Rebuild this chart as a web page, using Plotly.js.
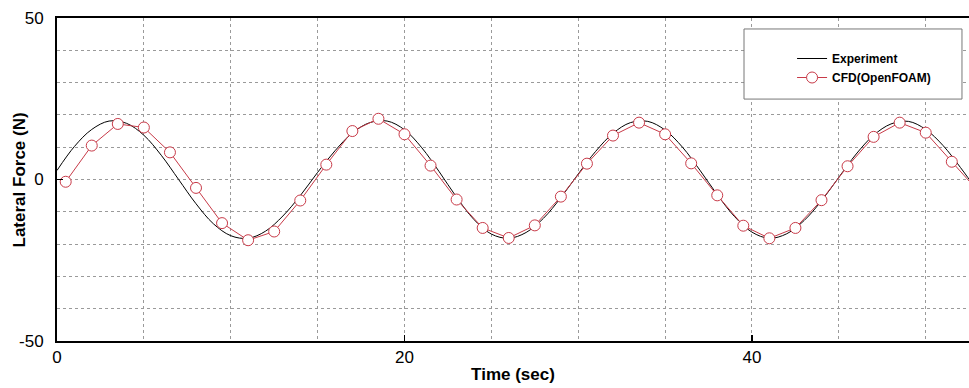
<!DOCTYPE html>
<html>
<head>
<meta charset="utf-8">
<script src="https://cdn.plot.ly/plotly-3.0.1.min.js"></script>
<style>html,body{margin:0;padding:0;background:#fff;}#chart{width:969px;height:388px;}</style>
</head>
<body>
<div id="chart"></div>
<script>
// Experiment (1 s spacing)
const expTime = [0,1,2,3,4,5,6,7,8,9,10,11,12,13,14,15,16,17,18,19,20,21,22,23,24,25,26,27,28,29,30,31,32,33,34,35,36,37,38,39,40,41,42,43,44,45,46,47,48,49,50,51,52,53];
const expForce = [2.8,10.2,15.5,18.1,17.4,13.7,7.5,0.0,-7.5,-13.7,-17.4,-18.2,-16.0,-11.3,-5.0,2.2,8.9,14.4,17.6,18.1,15.4,9.8,2.4,-5.5,-12.4,-16.9,-18.2,-16.4,-12.0,-5.6,1.7,8.7,14.3,17.6,18.0,15.3,10.0,2.9,-4.7,-11.5,-16.3,-18.2,-16.8,-12.7,-6.6,0.7,7.9,13.7,17.2,18.0,15.5,10.5,3.7,-3.7];

// CFD (OpenFOAM) markers
const cfdTime = [0.5,2.0,3.5,5.0,6.5,8.0,9.5,11.0,12.5,14.0,15.5,17.0,18.5,20.0,21.5,23.0,24.5,26.0,27.5,29.0,30.5,32.0,33.5,35.0,36.5,38.0,39.5,41.0,42.5,44.0,45.5,47.0,48.5,50.0,51.5,53.0];
const cfdForce = [-0.7,10.5,17.2,16.1,8.4,-2.6,-13.5,-18.8,-16.1,-6.5,4.6,15.0,18.8,14.0,4.3,-6.2,-15.0,-18.1,-14.2,-5.3,4.9,13.6,17.6,14.0,5.0,-4.9,-14.3,-18.2,-15.0,-6.4,4.1,13.2,17.6,14.5,5.5,-3.5];

const xTickVals = [0,20,40];
const yTickVals = [-50,0,50];
const xTitle = 'Time (sec)';
const yTitle = 'Lateral Force (N)';

const traces = [
  {x: expTime, y: expForce, name: 'Experiment', type: 'scatter', mode: 'lines',
   line: {color: '#000000', width: 1, shape: 'spline', smoothing: 1}},
  {x: cfdTime, y: cfdForce, name: 'CFD(OpenFOAM)', type: 'scatter', mode: 'lines+markers',
   line: {color: '#c83a48', width: 1},
   marker: {symbol: 'circle', size: 11, color: '#ffffff', line: {color: '#c83a48', width: 1}}}
];

const gridColor = '#9a9a9a';
const layout = {
  width: 969, height: 388,
  margin: {l: 57, r: 0, t: 18, b: 47, pad: 0},
  paper_bgcolor: '#ffffff', plot_bgcolor: '#ffffff',
  font: {family: 'Liberation Sans, Arial, sans-serif', color: '#000'},
  showlegend: true,
  legend: {
    x: 0.806, y: 0.9195, xanchor: 'left', yanchor: 'top',
    bgcolor: 'rgba(0,0,0,0)', borderwidth: 0,
    font: {size: 12, family: 'Liberation Sans, Arial, sans-serif', weight: 'bold'},
    tracegroupgap: 0
  },
  shapes: [{
    type: 'rect', xref: 'paper', yref: 'paper', layer: 'above',
    x0: 0.7533, x1: 0.9923, y0: 0.749, y1: 0.966,
    fillcolor: '#ffffff', line: {color: '#777777', width: 1}
  }],
  annotations: [{
    text: '<b>' + yTitle + '</b>', xref: 'paper', yref: 'paper',
    x: -0.0406, y: 0.5, xanchor: 'center', yanchor: 'middle',
    textangle: -90, showarrow: false, font: {size: 17}
  }],
  xaxis: {
    range: [0, 52.49], tickvals: xTickVals, ticktext: xTickVals.map(String),
    ticks: 'inside', ticklen: 6, tickwidth: 1.5, tickcolor: '#000',
    tickfont: {size: 17}, ticklabelstandoff: 0,
    showline: true, linecolor: '#000', linewidth: 2, mirror: true,
    showgrid: true, gridcolor: gridColor, gridwidth: 1, griddash: 'dot',
    minor: {dtick: 5, tick0: 0, showgrid: true, gridcolor: gridColor, gridwidth: 1, griddash: 'dot'},
    zeroline: false,
    title: {text: '<b>' + xTitle + '</b>', font: {size: 17}, standoff: 2}
  },
  yaxis: {
    range: [-50, 50], tickvals: yTickVals, ticktext: yTickVals.map(String),
    ticks: 'inside', ticklen: 6, tickwidth: 1.5, tickcolor: '#000',
    tickfont: {size: 17}, ticklabelstandoff: 8,
    showline: true, linecolor: '#000', linewidth: 2, mirror: false,
    showgrid: true, gridcolor: gridColor, gridwidth: 1, griddash: 'dot',
    minor: {dtick: 10, tick0: 0, showgrid: true, gridcolor: gridColor, gridwidth: 1, griddash: 'dot'},
    zeroline: false
  }
};

Plotly.newPlot('chart', traces, layout, {displayModeBar: false, staticPlot: true});
</script>
</body>
</html>
